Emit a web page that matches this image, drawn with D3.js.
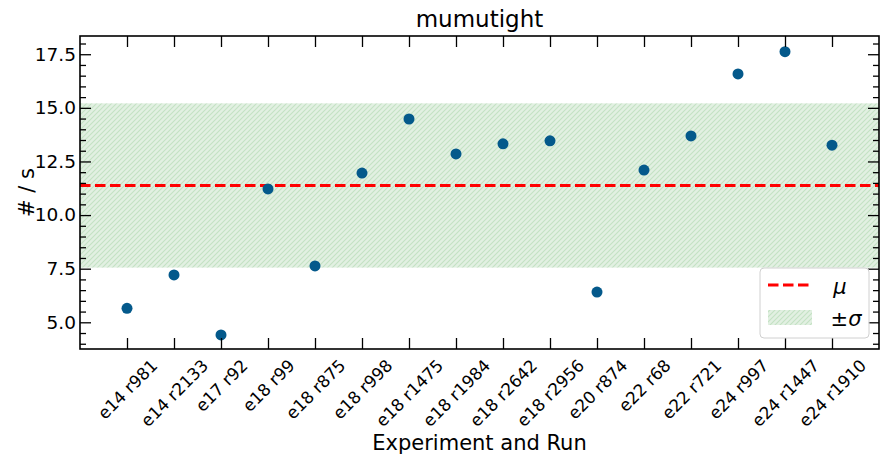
<!DOCTYPE html>
<html><head><meta charset="utf-8">
<script src="https://cdn.jsdelivr.net/npm/d3@7"></script>
<style>html,body{margin:0;padding:0;background:#fff;} svg{display:block;font-family:"DejaVu Sans",sans-serif;}</style>
</head><body>
<svg id="c" width="881" height="456"></svg>
<script>
const categories = ["e14 r981","e14 r2133","e17 r92","e18 r99","e18 r875","e18 r998","e18 r1475","e18 r1984","e18 r2642","e18 r2956","e20 r874","e22 r68","e22 r721","e24 r997","e24 r1447","e24 r1910"];
const rates = [5.65,7.21,4.41,11.22,7.63,11.96,14.48,12.85,13.32,13.46,6.41,12.10,13.69,16.58,17.62,13.26];
const muValue = 11.38;
const sigmaValue = 3.83;
const yTickValues = [5.0,7.5,10.0,12.5,15.0,17.5];
const titleText = "mumutight";
const xLabel = "Experiment and Run";
const yLabel = "# / s";

const FONT = '"DejaVu Sans", sans-serif';
const svg = d3.select("#c");
const L=80,R=879,T=36,B=349;
const x = d3.scaleLinear().domain([-1,16]).range([L,R]);
const y = d3.scaleLinear().domain([3.755,18.35]).range([B,T]);

const defs = svg.append("defs");
const pat = defs.append("pattern").attr("id","hatch").attr("patternUnits","userSpaceOnUse").attr("width",5).attr("height",5);
pat.append("rect").attr("width",5).attr("height",5).attr("fill","#e2f0e2");
pat.append("path").attr("d","M-1,1 L1,-1 M0,5 L5,0 M4,6 L6,4").attr("stroke","#c4e2c4").attr("stroke-width",1.1);
defs.append("clipPath").attr("id","clip").append("rect").attr("x",L).attr("y",T).attr("width",R-L).attr("height",B-T);

const plot = svg.append("g").attr("clip-path","url(#clip)");
plot.append("rect").attr("x",L).attr("width",R-L)
  .attr("y",y(muValue+sigmaValue)).attr("height",y(muValue-sigmaValue)-y(muValue+sigmaValue))
  .attr("fill","url(#hatch)");
plot.append("line").attr("x1",L).attr("x2",R).attr("y1",y(muValue)).attr("y2",y(muValue))
  .attr("stroke","#ff0000").attr("stroke-width",3).attr("stroke-dasharray","10.5,4.5");
plot.selectAll("circle.pt").data(rates).enter().append("circle").attr("class","pt")
  .attr("cx",(d,i)=>x(i)).attr("cy",d=>y(d)).attr("r",5.5).attr("fill","#04598b");

const idx = categories.map((d,i)=>i);
const minor = d3.range(4,18.01,0.5).filter(v=>yTickValues.indexOf(v)<0 && v>3.755 && v<18.35);
function styleAxis(g){ g.attr("font-family",FONT); g.select(".domain").remove(); g.selectAll(".tick line").attr("stroke","#000").attr("stroke-width",1.3); }

const XF = 16.8;
const xb = svg.append("g").attr("transform",`translate(0,${B})`)
  .call(d3.axisBottom(x).tickValues(idx).tickSize(-11).tickFormat(i=>categories[i]).tickPadding(10));
styleAxis(xb);
xb.selectAll(".tick text").attr("font-size",XF).attr("fill","#000");
const xt = svg.append("g").attr("transform",`translate(0,${T})`)
  .call(d3.axisTop(x).tickValues(idx).tickSize(-11).tickFormat(""));
styleAxis(xt);

const yl = svg.append("g").attr("transform",`translate(${L},0)`)
  .call(d3.axisLeft(y).tickValues(yTickValues).tickSize(-11).tickPadding(4).tickFormat(d3.format(".1f")));
styleAxis(yl);
yl.selectAll(".tick text").attr("font-size",18.5).attr("fill","#000");
const ylm = svg.append("g").attr("transform",`translate(${L},0)`)
  .call(d3.axisLeft(y).tickValues(minor).tickSize(-6).tickFormat(""));
styleAxis(ylm);
const yr = svg.append("g").attr("transform",`translate(${R},0)`)
  .call(d3.axisRight(y).tickValues(yTickValues).tickSize(-11).tickFormat(""));
styleAxis(yr);
const yrm = svg.append("g").attr("transform",`translate(${R},0)`)
  .call(d3.axisRight(y).tickValues(minor).tickSize(-6).tickFormat(""));
styleAxis(yrm);

xb.selectAll(".tick text").each(function(){
  const t = d3.select(this);
  const w = this.getComputedTextLength();
  const h = XF*0.9;
  const cy = 8 + (w + h)*Math.SQRT1_2/2;
  t.attr("text-anchor","middle").attr("dominant-baseline","central").attr("dy",null).attr("y",null)
   .attr("transform",`translate(0,${cy}) rotate(-45)`);
});

svg.append("rect").attr("x",L).attr("y",T).attr("width",R-L).attr("height",B-T)
  .attr("fill","none").attr("stroke","#000").attr("stroke-width",1.6);

svg.append("text").attr("x",(L+R)/2).attr("y",27).attr("text-anchor","middle").attr("font-size",23).text(titleText);
svg.append("text").attr("x",(L+R)/2).attr("y",450).attr("text-anchor","middle").attr("font-size",21).text(xLabel);
svg.append("text").attr("transform",`translate(34,${(T+B)/2}) rotate(-90)`).attr("text-anchor","middle").attr("font-size",21).text(yLabel);

const lg = svg.append("g");
lg.append("rect").attr("x",760).attr("y",268).attr("width",109).attr("height",70).attr("rx",4)
  .attr("fill","rgba(255,255,255,0.85)").attr("stroke","#d0d0d0").attr("stroke-width",1);
lg.append("line").attr("x1",768).attr("x2",809).attr("y1",285).attr("y2",285)
  .attr("stroke","#ff0000").attr("stroke-width",3).attr("stroke-dasharray","10.5,4.5");
lg.append("rect").attr("x",768).attr("y",310).attr("width",44).attr("height",15).attr("fill","url(#hatch)");
lg.append("text").attr("x",840).attr("y",294).attr("text-anchor","middle").attr("font-size",21).attr("font-style","italic").text("μ");
lg.append("text").attr("x",846).attr("y",326).attr("text-anchor","middle").attr("font-size",21).html('±<tspan font-style="italic">σ</tspan>');
</script>
</body></html>
